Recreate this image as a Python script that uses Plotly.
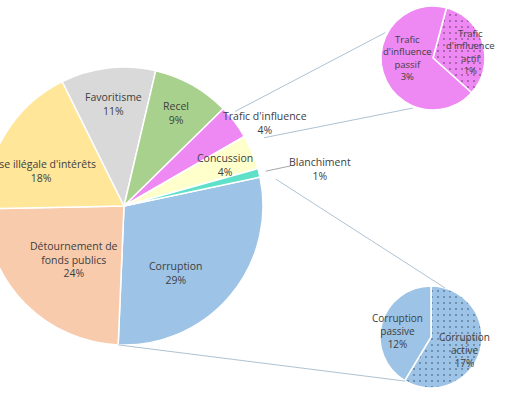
import math
import plotly.graph_objects as go

# ---------------- data ----------------
main_labels = ["Corruption", "Détournement de fonds publics", "Prise illégale d'intérêts",
               "Favoritisme", "Recel", "Trafic d'influence", "Concussion", "Blanchiment"]
main_text = ["Corruption", "Détournement de<br>fonds publics", "Prise illégale d'intérêts",
             "Favoritisme", "Recel", "Trafic d'influence", "Concussion", "Blanchiment"]
main_values = [29, 24, 18, 11, 9, 4, 4, 1]
main_colors = ["#9DC3E6", "#F8CBAD", "#FFE699", "#D9D9D9", "#A9D18E", "#EE88F2", "#FFFFCC", "#5FE0C8"]

traf_labels = ["Trafic d'influence actif", "Trafic d'influence passif"]
traf_text = ["Trafic<br>d'influence<br>actif", "Trafic<br>d'influence<br>passif"]
traf_values = [1.3, 2.7]

corr_labels = ["Corruption active", "Corruption passive"]
corr_text = ["Corruption<br>active", "Corruption<br>passive"]
corr_values = [17, 12]

# ---------------- geometry (reference pixels) ----------------
W_VIEW, H = 530, 396
SHIFT = 15                      # main pie is clipped on the left
W = W_VIEW + SHIFT
MAIN_C, MAIN_R = (124, 206), 139
TOP_C, TOP_R = (433, 58), 52
BOT_C, BOT_R = (431, 337), 51
MAIN_ROT = 78
FONT = "Open Sans"
TXT = "#404040"
LINE = "#AFC2D2"
VIOLET = "#EE88F2"
BLUE = "#9DC3E6"

# label placements (reference pixels)
main_label_pos = [(176, 273), (74, 259), (41, 171), (113, 104), (176, 113),
                  (265, 123), (225, 165), (320, 169)]
traf_label_pos = [(470, 52), (407, 58)]
corr_label_pos = [(464, 350), (397, 331)]


def px(x):
    return (x + SHIFT) / W


def py(y):
    return 1 - y / H


def dom(c, r):
    return dict(x=[max(0, px(c[0] - r)), min(1, px(c[0] + r))], y=[py(c[1] + r), py(c[1] - r)])


def polar(c, r, ang):
    a = math.radians(ang)
    return c[0] + r * math.cos(a), c[1] - r * math.sin(a)


# slice boundary angles (deg, ccw from +x) of main pie, clockwise order
tot = sum(main_values)
bounds = [90 - MAIN_ROT]
for v in main_values:
    bounds.append(bounds[-1] - 360 * v / tot)

fig = go.Figure()

fig.add_trace(go.Pie(
    labels=main_labels, values=main_values, textinfo="none",
    sort=False, direction="clockwise", rotation=MAIN_ROT,
    marker=dict(colors=main_colors, line=dict(color="white", width=1.5)),
    domain=dom(MAIN_C, MAIN_R), showlegend=False, hoverinfo="label+value",
))

fig.add_trace(go.Pie(
    labels=traf_labels, values=traf_values, textinfo="none",
    sort=False, direction="clockwise", rotation=15,
    marker=dict(colors=[VIOLET, VIOLET], line=dict(color="white", width=1.5),
                pattern=dict(shape=[".", ""], fgcolor="#5A3560", bgcolor=[VIOLET, VIOLET],
                             size=6, solidity=0.06)),
    domain=dom(TOP_C, TOP_R), showlegend=False, hoverinfo="label+value",
))

fig.add_trace(go.Pie(
    labels=corr_labels, values=corr_values, textinfo="none",
    sort=False, direction="clockwise", rotation=0,
    marker=dict(colors=[BLUE, BLUE], line=dict(color="white", width=1.5),
                pattern=dict(shape=[".", ""], fgcolor="#34506C", bgcolor=[BLUE, BLUE],
                             size=6, solidity=0.06)),
    domain=dom(BOT_C, BOT_R), showlegend=False, hoverinfo="label+value",
))


def label(txt, pos, size):
    fig.add_annotation(x=px(pos[0]), y=py(pos[1]), xref="paper", yref="paper",
                       xanchor="center", yanchor="middle",
                       text=txt, showarrow=False, align="center",
                       font=dict(family=FONT, size=size, color=TXT))


for t, v, p in zip(main_text, main_values, main_label_pos):
    label(f"{t}<br>{v}%", p, 10.5)
for t, v, p in zip(traf_text, traf_values, traf_label_pos):
    label(f"{t}<br>{v:.0f}%", p, 9.5)
for t, v, p in zip(corr_text, corr_values, corr_label_pos):
    label(f"{t}<br>{v}%", p, 10)

# connector lines
conns = [
    (polar(MAIN_C, MAIN_R * 1.05, bounds[5] - 4), polar(TOP_C, TOP_R + 2, 152)),
    (polar(MAIN_C, MAIN_R * 1.12, bounds[6] - 4), polar(TOP_C, TOP_R + 2, -112)),
    (polar(MAIN_C, MAIN_R * 1.11, bounds[0] - 2), polar(BOT_C, BOT_R, 74)),
    (polar(MAIN_C, MAIN_R, bounds[1]), polar(BOT_C, BOT_R, -120)),
]
for (x0, y0), (x1, y1) in conns:
    fig.add_shape(type="line", xref="paper", yref="paper",
                  x0=px(x0), y0=py(y0), x1=px(x1), y1=py(y1),
                  line=dict(color=LINE, width=1))

# leader line of "Blanchiment"
lx0, ly0 = polar(MAIN_C, MAIN_R * 1.05, (bounds[7] + bounds[8]) / 2)
fig.add_shape(type="line", xref="paper", yref="paper",
              x0=px(lx0), y0=py(ly0), x1=px(290), y1=py(166),
              line=dict(color="#A6A6A6", width=1))

fig.update_layout(width=W, height=H, margin=dict(l=0, r=0, t=0, b=0),
                  paper_bgcolor="white", plot_bgcolor="white")

post = ("document.body.style.margin='0';document.body.style.overflow='hidden';"
        "var d=document.getElementById('{plot_id}');d.style.marginLeft='-%dpx';" % SHIFT)
fig.write_html("out.html", post_script=post, config={"displayModeBar": False})
